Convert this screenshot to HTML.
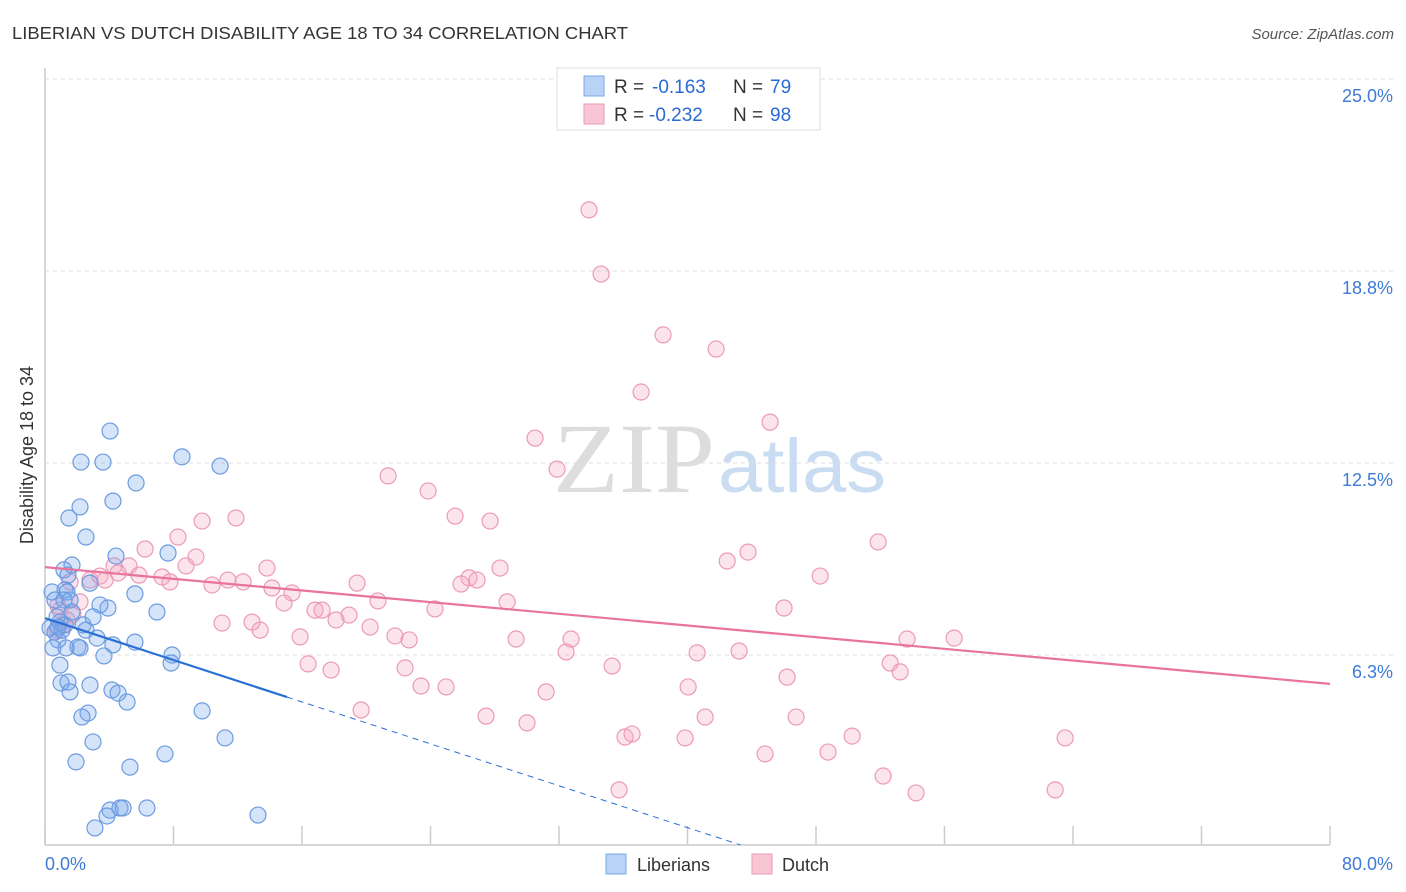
<!DOCTYPE html>
<html><head><meta charset="utf-8"><style>
body{margin:0;background:#fff;font-family:"Liberation Sans",sans-serif;}
svg{display:block}
</style></head><body>
<svg id="chart" width="1406" height="892" viewBox="0 0 1406 892">
<text x="12" y="39" font-size="17.5" fill="#333" textLength="616" lengthAdjust="spacingAndGlyphs">LIBERIAN VS DUTCH DISABILITY AGE 18 TO 34 CORRELATION CHART</text>
<text x="1394" y="39" font-size="15" fill="#555" font-style="italic" text-anchor="end">Source: ZipAtlas.com</text>
<g>
<text x="553" y="492" font-family="Liberation Serif,serif" font-size="100" fill="#ddd" textLength="162" lengthAdjust="spacingAndGlyphs">ZIP</text>
<text x="718" y="492" font-size="76" fill="#c9dcf2" textLength="168" lengthAdjust="spacingAndGlyphs">atlas</text>
</g>
<g id="grid"></g>
<g id="axes"></g>
<text transform="translate(33,455) rotate(-90)" font-size="18" fill="#333" text-anchor="middle">Disability Age 18 to 34</text>
<g id="pts"></g>
<g id="lines"></g>
<g>
<rect x="557" y="68" width="263" height="62" fill="#fff" stroke="#ddd"/>
<rect x="584" y="76" width="20" height="20" fill="#b8d3f5" stroke="#7aa7e8"/>
<rect x="584" y="104" width="20" height="20" fill="#f8c5d5" stroke="#ec9ab5"/>
<g font-size="19">
<text x="614" y="93" fill="#333">R =</text><text x="652" y="93" fill="#2a6ad3">-0.163</text>
<text x="733" y="93" fill="#333">N =</text><text x="770" y="93" fill="#2a6ad3">79</text></g>
<g font-size="19">
<text x="614" y="121" fill="#333">R =</text><text x="649" y="121" fill="#2a6ad3">-0.232</text>
<text x="733" y="121" fill="#333">N =</text><text x="770" y="121" fill="#2a6ad3">98</text></g>
</g>
<g>
<rect x="606" y="854" width="20" height="20" fill="#b8d3f5" stroke="#7aa7e8"/>
<text x="637" y="871" font-size="18" fill="#333">Liberians</text>
<rect x="752" y="854" width="20" height="20" fill="#f8c5d5" stroke="#ec9ab5"/>
<text x="782" y="871" font-size="18" fill="#333">Dutch</text>
</g>
</svg>
<script>
const yTicks=[6.25,12.5,18.75,25];
const yTickLabels=["6.3%","12.5%","18.8%","25.0%"];
const xTicks=[0,10,20,30,40,50,60,70,80];
const xLabels=["0.0%","80.0%"];
const blueX=[.44,.31,.62,.81,.50,.93,1.06,1.25,.75,.93,1.0,1.43,1.56,1.18,1.43,1.68,1.25,1.37,1.49,2.18,2.24,2.55,3.61,4.05,4.23,5.67,8.53,10.90,4.42,7.66,2.80,3.92,3.42,5.60,6.97,2.37,2.55,2.99,3.24,4.23,5.60,2.05,2.18,3.67,7.91,7.85,2.80,4.17,4.55,5.11,2.68,2.30,9.78,2.99,11.21,7.47,1.93,5.29,4.05,4.67,4.86,6.35,3.86,3.11,13.26,.62,1.56,1.68,.81,1.31,1.18];
const blueY=[8.30,7.13,7.00,6.74,6.48,7.32,7.06,7.23,7.49,5.92,5.34,5.37,5.05,9.02,8.85,9.18,8.37,8.30,10.71,11.07,12.53,10.09,12.53,13.54,11.26,11.85,12.70,12.40,9.47,9.57,8.59,7.78,7.88,8.24,7.65,7.23,7.06,7.49,6.80,6.58,6.67,6.51,6.48,6.22,6.25,5.99,5.27,5.11,5.01,4.72,4.36,4.23,4.43,3.42,3.55,3.03,2.77,2.60,1.20,1.27,1.27,1.27,1.01,.62,1.04,8.04,8.04,7.65,7.16,6.48,8.04];
const pinkX=[33.87,34.62,38.48,41.78,37.11,45.14,30.51,31.88,21.36,23.85,25.53,27.71,9.78,11.89,8.28,6.23,9.40,51.87,43.77,42.47,48.26,28.33,13.82,5.23,4.30,2.80,3.42,3.74,4.55,5.85,7.29,7.78,8.78,10.40,11.39,12.33,14.13,15.38,14.88,16.81,17.25,18.93,20.73,19.43,26.40,26.90,25.90,28.77,24.28,46.01,18.12,20.24,21.79,22.67,15.88,13.39,11.02,12.89,29.33,32.75,32.44,40.60,43.21,53.67,56.60,35.31,22.42,17.81,16.38,52.62,53.24,46.20,40.04,23.41,24.97,31.20,19.68,27.46,30.01,41.10,46.76,36.11,36.55,39.85,50.25,44.83,48.75,63.51,52.18,54.23,62.89,35.74,1.56,.93,1.12,.75,1.74,1.37,.81,2.18];
const pinkY=[20.74,18.65,16.67,16.21,14.81,13.83,13.31,12.30,12.08,11.59,10.77,10.61,10.61,10.71,10.09,9.70,9.44,9.93,9.60,9.31,8.82,9.08,9.08,9.15,9.15,8.69,8.82,8.69,8.92,8.85,8.79,8.63,9.15,8.53,8.69,8.63,8.43,8.27,7.94,7.71,7.71,7.55,8.01,8.59,8.76,8.69,8.56,7.98,7.75,7.78,7.39,7.16,6.87,6.74,6.84,7.06,7.29,7.32,6.77,6.77,6.35,6.32,6.38,6.77,6.80,5.89,5.83,5.76,5.96,5.99,5.70,5.53,5.21,5.24,5.21,5.05,4.46,4.26,4.04,4.23,4.23,3.58,3.68,3.55,3.61,3.03,3.09,3.55,2.31,1.76,1.86,1.86,8.63,7.71,7.23,7.06,7.58,7.39,7.85,7.98];
const blueTrend=[7.45,-0.1705];
const blueSolidEnd=15.07, blueDashEnd=43.3;
const pinkTrend=[9.11,-0.0475];

const X0=45,X1=1330,YB=847;
const sx=v=>X0+(X1-X0)*v/80;
const sy=v=>YB-(YB-655)*v/6.25;
const NS="http://www.w3.org/2000/svg";
function mk(tag,attrs,parent){const e=document.createElementNS(NS,tag);for(const k in attrs)e.setAttribute(k,attrs[k]);parent.appendChild(e);return e;}
const grid=document.getElementById('grid'),axes=document.getElementById('axes');
yTicks.forEach((t,i)=>{
 const l=mk('line',{x1:X0,x2:1393,y1:sy(t),y2:sy(t),stroke:'#ddd','stroke-dasharray':'4,4'},grid);
 
 
 const tx=mk('text',{x:1393,y:sy(t)+23,'font-size':18,fill:'#3d7bd6','text-anchor':'end'},axes);
 tx.textContent=yTickLabels[i];
 
 
});
const ax=mk('line',{x1:X0,x2:X0,y1:68,y2:845,stroke:'#ccc','stroke-width':1.5},axes);


const bx=mk('line',{x1:X0,x2:X1,y1:845,y2:845,stroke:'#ccc','stroke-width':1.5},axes);


for(let i=0;i<=10;i++){
 const v=i*8;
 const t=mk('line',{x1:sx(v),x2:sx(v),y1:826,y2:845,stroke:'#ccc','stroke-width':1.5},axes);
 
 
}
const l0=mk('text',{x:45,y:870,'font-size':18,fill:'#3d7bd6'},axes);l0.textContent=xLabels[0];


const l1=mk('text',{x:1393,y:870,'font-size':18,fill:'#3d7bd6','text-anchor':'end'},axes);l1.textContent=xLabels[1];


const pts=document.getElementById('pts');
pinkX.forEach((x,i)=>{
 const c=mk('circle',{cx:sx(x),cy:sy(pinkY[i]),r:8,fill:'rgba(244,166,191,0.3)',stroke:'#ec9ab5','stroke-width':1.2},pts);
 
 
});
blueX.forEach((x,i)=>{
 const c=mk('circle',{cx:sx(x),cy:sy(blueY[i]),r:8,fill:'rgba(120,165,235,0.3)',stroke:'#6b9be0','stroke-width':1.2},pts);
 
 
});
const lines=document.getElementById('lines');
const bf=v=>blueTrend[0]+blueTrend[1]*v, pf=v=>pinkTrend[0]+pinkTrend[1]*v;
const pl=mk('line',{x1:sx(0),y1:sy(pf(0)),x2:sx(80),y2:sy(pf(80)),stroke:'#e8739c','stroke-width':2.2},lines);


const bl=mk('line',{x1:sx(0),y1:sy(bf(0)),x2:sx(blueSolidEnd),y2:sy(bf(blueSolidEnd)),stroke:'#2a6fd6','stroke-width':2.2},lines);


const bd=mk('line',{x1:sx(blueSolidEnd),y1:sy(bf(blueSolidEnd)),x2:sx(blueDashEnd),y2:sy(bf(blueDashEnd)),stroke:'#2a6fd6','stroke-width':1,'stroke-dasharray':'6,5'},lines);


</script>
</body></html>
